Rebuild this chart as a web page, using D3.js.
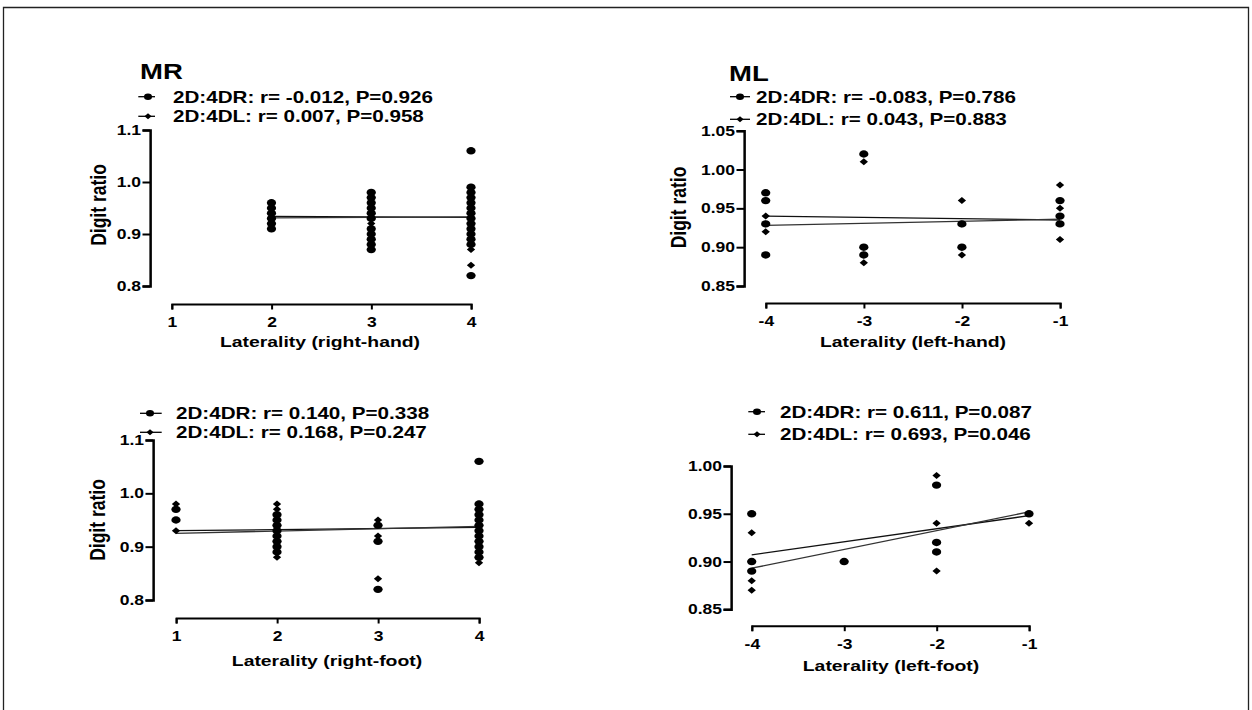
<!DOCTYPE html>
<html><head><meta charset="utf-8">
<script src="https://cdn.jsdelivr.net/npm/d3@7"></script>
<style>
html,body{margin:0;padding:0;background:#fff;}
svg{display:block;}
</style>
</head><body>
<svg id="c" width="1252" height="710"></svg>
<script>
// ---------------- DATA ----------------
// Panel MR – right hand
const mrHandX = [2, 3, 4];
const mrHandR = [
  [0.91, 0.92, 0.93, 0.94, 0.95, 0.96],
  [0.87, 0.88, 0.89, 0.90, 0.91, 0.93, 0.94, 0.95, 0.96, 0.97, 0.98],
  [0.82, 0.88, 0.89, 0.90, 0.91, 0.92, 0.93, 0.94, 0.95, 0.96, 0.97, 0.98, 0.99, 1.06]
];
const mrHandL = [
  [0.91, 0.92, 0.93, 0.94, 0.95, 0.96],
  [0.87, 0.88, 0.89, 0.90, 0.91, 0.92, 0.93, 0.94, 0.95, 0.96, 0.97, 0.98],
  [0.84, 0.87, 0.88, 0.89, 0.90, 0.91, 0.92, 0.93, 0.94, 0.95, 0.96, 0.97, 0.98, 0.99]
];
const mrHandFitR = [[2, 0.934], [4, 0.932]];
const mrHandFitL = [[2, 0.931], [4, 0.933]];
const mrHandLegend = ["2D:4DR: r= -0.012, P=0.926", "2D:4DL: r= 0.007, P=0.958"];

// Panel ML – left hand
const mlHandX = [-4, -3, -2, -1];
const mlHandR = [[0.97, 0.96, 0.93, 0.89], [1.02, 0.90, 0.89], [0.93, 0.90], [0.96, 0.94, 0.93]];
const mlHandL = [[0.96, 0.94, 0.93, 0.92], [1.01, 0.89, 0.88], [0.96, 0.93, 0.89], [0.98, 0.95, 0.91]];
const mlHandFitR = [[-4, 0.940], [-1, 0.935]];
const mlHandFitL = [[-4, 0.928], [-1, 0.936]];
const mlHandLegend = ["2D:4DR: r= -0.083, P=0.786", "2D:4DL: r= 0.043, P=0.883"];

// Panel MR – right foot
const mrFootX = [1, 2, 3, 4];
const mrFootR = [
  [0.97, 0.95],
  [0.89, 0.90, 0.91, 0.92, 0.93, 0.94, 0.95, 0.96],
  [0.94, 0.91, 0.82],
  [0.88, 0.89, 0.90, 0.91, 0.92, 0.93, 0.94, 0.95, 0.96, 0.97, 0.98, 1.06]
];
const mrFootL = [
  [0.98, 0.93],
  [0.88, 0.89, 0.90, 0.91, 0.92, 0.93, 0.94, 0.95, 0.96, 0.97, 0.98],
  [0.95, 0.92, 0.84],
  [0.87, 0.88, 0.89, 0.90, 0.91, 0.92, 0.93, 0.94, 0.95, 0.96, 0.97, 0.98]
];
const mrFootFitR = [[1, 0.930], [4, 0.936]];
const mrFootFitL = [[1, 0.925], [4, 0.938]];
const mrFootLegend = ["2D:4DR: r= 0.140, P=0.338", "2D:4DL: r= 0.168, P=0.247"];

// Panel ML – left foot
const mlFootX = [-4, -3, -2, -1];
const mlFootR = [[0.95, 0.90, 0.89], [0.90], [0.98, 0.92, 0.91], [0.95]];
const mlFootL = [[0.93, 0.88, 0.87], [], [0.99, 0.94, 0.89], [0.94]];
const mlFootFitR = [[-4, 0.907], [-1, 0.948]];
const mlFootFitL = [[-4, 0.893], [-1, 0.952]];
const mlFootLegend = ["2D:4DR: r= 0.611, P=0.087", "2D:4DL: r= 0.693, P=0.046"];

// Axis ticks
const ticksX1 = [1, 2, 3, 4];
const ticksXneg = [-4, -3, -2, -1];
const ticksY1 = [0.8, 0.9, 1.0, 1.1];
const ticksY2 = [0.85, 0.90, 0.95, 1.00, 1.05];
const ticksY4 = [0.85, 0.90, 0.95, 1.00];

// ---------------- LAYOUT ----------------
const S = 1.25;               // horizontal stretch of the original figure
const W = 1252 / S;
const X = v => v / S;         // screen px -> internal units
const FONT = "'Liberation Sans', Arial, Helvetica, sans-serif";

const svg = d3.select('#c')
  .attr('viewBox', `0 0 ${W} 710`)
  .attr('preserveAspectRatio', 'none')
  .style('font-family', FONT)
  .style('font-weight', 'bold');

svg.append('rect').attr('x', X(3.5)).attr('y', 7.5).attr('width', X(1245)).attr('height', 800)
  .attr('fill', 'none').attr('stroke', '#222').attr('stroke-width', 1.3)
  .attr('vector-effect', 'non-scaling-stroke');

const panels = [
  { title: 'MR', titleX: 140, titleY: 79.5,
    cats: mrHandX, R: mrHandR, L: mrHandL, fitR: mrHandFitR, fitL: mrHandFitL, legend: mrHandLegend,
    yAxisX: 150, yTop: 130, yBot: 286, yDomain: [0.8, 1.1], yTicks: ticksY1, fmt: '.1f',
    xAxisY: 304, xLeft: 171.7, xRight: 471, xDomain: [1, 4], xTicks: ticksX1,
    xTitle: 'Laterality (right-hand)', xTitleCX: 320, xTitleY: 347.5,
    yTitle: true, yTitleX: 106, yTitleCY: 205,
    legY: [96.7, 116.3], legX0: 138.3, legX1: 155, legMX: 148, legTX: 173 },
  { title: 'ML', titleX: 729, titleY: 81,
    cats: mlHandX, R: mlHandR, L: mlHandL, fitR: mlHandFitR, fitL: mlHandFitL, legend: mlHandLegend,
    yAxisX: 744, yTop: 130.7, yBot: 286, yDomain: [0.85, 1.05], yTicks: ticksY2, fmt: '.2f',
    xAxisY: 303, xLeft: 765.7, xRight: 1060, xDomain: [-4, -1], xTicks: ticksXneg,
    xTitle: 'Laterality (left-hand)', xTitleCX: 913, xTitleY: 347.5,
    yTitle: true, yTitleX: 686, yTitleCY: 207.5,
    legY: [96.7, 119.3], legX0: 730, legX1: 750, legMX: 740, legTX: 756 },
  { title: null,
    cats: mrFootX, R: mrFootR, L: mrFootL, fitR: mrFootFitR, fitL: mrFootFitL, legend: mrFootLegend,
    yAxisX: 153, yTop: 440, yBot: 600, yDomain: [0.8, 1.1], yTicks: ticksY1, fmt: '.1f',
    xAxisY: 618, xLeft: 176, xRight: 479, xDomain: [1, 4], xTicks: ticksX1,
    xTitle: 'Laterality (right-foot)', xTitleCX: 327, xTitleY: 666,
    yTitle: true, yTitleX: 105, yTitleCY: 520,
    legY: [413.3, 432.3], legX0: 140, legX1: 161.7, legMX: 150, legTX: 176 },
  { title: null,
    cats: mlFootX, R: mlFootR, L: mlFootL, fitR: mlFootFitR, fitL: mlFootFitL, legend: mlFootLegend,
    yAxisX: 731, yTop: 466, yBot: 609.3, yDomain: [0.85, 1.00], yTicks: ticksY4, fmt: '.2f',
    xAxisY: 625.7, xLeft: 751.7, xRight: 1029, xDomain: [-4, -1], xTicks: ticksXneg,
    xTitle: 'Laterality (left-foot)', xTitleCX: 891, xTitleY: 671,
    yTitle: false,
    legY: [411.7, 434.3], legX0: 748.3, legX1: 765, legMX: 757, legTX: 780 }
];

// wide diamond symbol (custom d3 symbol type)
const diamondWide = {
  draw(ctx, size) {
    const r = Math.sqrt(size);
    const hx = r * 0.95;
    ctx.moveTo(0, -r); ctx.lineTo(hx, 0); ctx.lineTo(0, r); ctx.lineTo(-hx, 0); ctx.closePath();
  }
};
const diamondPath = d3.symbol().type(diamondWide).size(12.25)();

function drawPanel(p) {
  const g = svg.append('g');
  const x = d3.scaleLinear().domain(p.xDomain).range([X(p.xLeft), X(p.xRight)]);
  const y = d3.scaleLinear().domain(p.yDomain).range([p.yBot, p.yTop]);

  // axes
  const ya = g.append('g').attr('transform', `translate(${X(p.yAxisX)},0)`)
    .call(d3.axisLeft(y).tickValues(p.yTicks).tickFormat(d3.format(p.fmt))
      .tickSizeOuter(0).tickSize(X(7.5)).tickPadding(X(1.5)));
  const xa = g.append('g').attr('transform', `translate(0,${p.xAxisY})`)
    .call(d3.axisBottom(x).tickValues(p.xTicks).tickFormat(d => String(d))
      .tickSizeOuter(0).tickSize(5.5).tickPadding(8));
  [ya, xa].forEach(a => {
    a.attr('font-family', FONT).attr('font-size', 14).attr('font-weight', 'bold');
    a.selectAll('.tick text').attr('fill', '#000');
    a.selectAll('.tick line').attr('stroke', '#000').attr('stroke-width', 2)
      .attr('vector-effect', 'non-scaling-stroke');
  });
  ya.select('.domain').attr('stroke', '#000').attr('stroke-width', 2.5).attr('vector-effect', 'non-scaling-stroke');
  xa.select('.domain').attr('stroke', '#000').attr('stroke-width', 2).attr('vector-effect', 'non-scaling-stroke');

  // regression lines
  const line = d3.line().x(d => x(d[0])).y(d => y(d[1]));
  [p.fitR, p.fitL].forEach((f, i) => {
    g.append('path').attr('d', line(f)).attr('fill', 'none')
      .attr('stroke', i === 0 ? '#111' : '#333').attr('stroke-width', 1.3)
      .attr('vector-effect', 'non-scaling-stroke');
  });

  // points
  const flat = vals => p.cats.flatMap((c, i) => vals[i].map(v => ({ x: c, y: v })));
  g.append('g').selectAll('path').data(flat(p.L)).join('path')
    .attr('d', diamondPath)
    .attr('transform', d => `translate(${x(d.x)},${y(d.y)})`)
    .attr('fill', '#000');
  g.append('g').selectAll('circle').data(flat(p.R)).join('circle')
    .attr('cx', d => x(d.x)).attr('cy', d => y(d.y)).attr('r', 3.7)
    .attr('fill', '#000');

  // titles
  if (p.title) {
    g.append('text').attr('x', X(p.titleX)).attr('y', p.titleY)
      .attr('font-size', 22).attr('font-weight', 'bold').attr('fill', '#000').text(p.title);
  }
  g.append('text').attr('x', X(p.xTitleCX)).attr('y', p.xTitleY)
    .attr('text-anchor', 'middle').attr('font-size', 15.5).attr('font-weight', 'bold')
    .attr('fill', '#000').text(p.xTitle);
  if (p.yTitle) {
    g.append('text')
      .attr('transform', `translate(${X(p.yTitleX)},${p.yTitleCY}) rotate(-90)`)
      .attr('text-anchor', 'middle').attr('font-size', 17.5).attr('font-weight', 'bold')
      .attr('fill', '#000').text('Digit ratio');
  }

  // legend
  p.legend.forEach((t, i) => {
    const ly = p.legY[i];
    g.append('line').attr('x1', X(p.legX0)).attr('x2', X(p.legX1)).attr('y1', ly).attr('y2', ly)
      .attr('stroke', '#000').attr('stroke-width', 1.3).attr('vector-effect', 'non-scaling-stroke');
    if (i === 0) {
      g.append('circle').attr('cx', X(p.legMX)).attr('cy', ly).attr('r', 3.2).attr('fill', '#000');
    } else {
      g.append('path').attr('d', d3.symbol().type(diamondWide).size(9)())
        .attr('transform', `translate(${X(p.legMX)},${ly})`).attr('fill', '#000');
    }
    g.append('text').attr('x', X(p.legTX)).attr('y', ly + 6)
      .attr('font-size', 16.5).attr('font-weight', 'bold').attr('fill', '#000').text(t);
  });
}

panels.forEach(drawPanel);
</script>
</body></html>
